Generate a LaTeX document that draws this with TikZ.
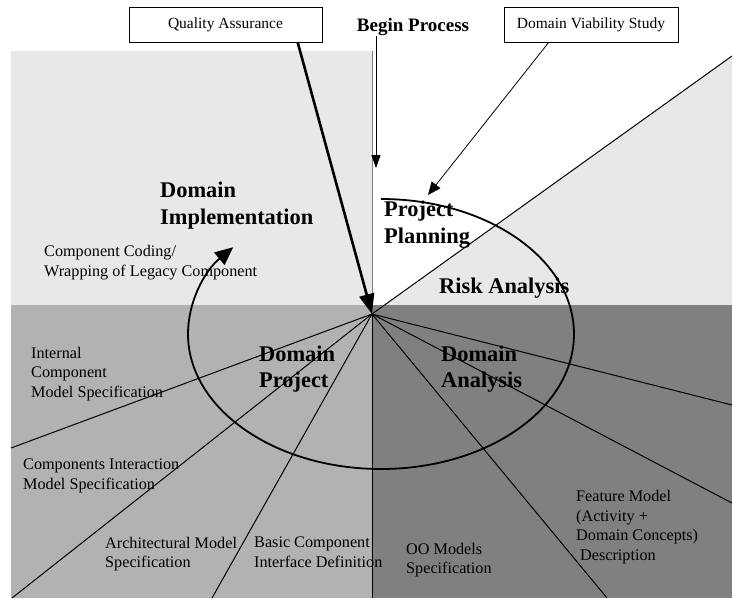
\documentclass[tikz,border=0pt]{standalone}
\usepackage{fontspec}
\setmainfont{Liberation Serif}
\usetikzlibrary{arrows.meta}
\definecolor{quadlight}{HTML}{E8E8E8}
\definecolor{quadmid}{HTML}{B2B2B2}
\definecolor{quaddark}{HTML}{808080}

\begin{document}
\begin{tikzpicture}[
    x=1pt, y=-1pt,
    note/.style={anchor=west, align=left, inner sep=0pt,
      font=\fontsize{16.2}{19.6}\selectfont},
    phase/.style={anchor=west, align=left, inner sep=0pt,
      font=\fontsize{22.4}{26.5}\selectfont\bfseries},
    inbox/.style={rectangle, draw, line width=1pt, fill=white,
      minimum height=35pt, inner sep=0pt, font=\fontsize{15.5}{19}\selectfont},
    spoke/.style={line width=1pt},
    cycle/.style={line width=1.8pt, -{Triangle[length=18pt,width=16pt]}},
  ]
  \useasboundingbox (0,0) rectangle (732,598);

  % quadrants
  \coordinate (hub) at (372,314);
  \fill[quadlight] (11,51) rectangle (372,305);
  \fill[quadlight] (hub) -- (732,56) -- (732,305) -- (372,305) -- cycle;
  \fill[quadmid] (11,305) rectangle (372,598);
  \fill[quaddark] (372,305) rectangle (732,598);
  \draw[gray, line width=0.6pt] (372,51) -- (hub);

  % phases
  \node[phase] (impl) at (160,205.5) {Domain\\Implementation};
  \node[phase] (planning) at (384,224.5) {Project\\Planning};
  \node[phase] (risk) at (439,288) {Risk Analysis};
  \node[phase] (dproj) at (259,369) {Domain\\Project};
  \node[phase] (danal) at (441,369) {Domain\\Analysis};

  % activities
  \node[note] (coding) at (44,262.5) {Component Coding/\\Wrapping of Legacy Component};
  \node[note] (internal) at (31,374) {Internal\\Component\\Model Specification};
  \node[note] (interact) at (23,476) {Components Interaction\\Model Specification};
  \node[note] (archi) at (105,554) {Architectural Model\\Specification};
  \node[note] (basic) at (254,552) {Basic Component\\Interface Definition};
  \node[note] (oomod) at (406,560) {OO Models\\Specification};
  \node[note] (feature) at (576,527) {Feature Model\\(Activity +\\Domain Concepts)\\\hspace*{4pt}Description};

  % spokes out of the hub
  \foreach \x/\y [count=\i] in {11/448, 12/598, 212/598, 372/598,
                                607/598, 732/503, 732/405, 732/56} {
    \coordinate (rim\i) at (\x,\y);
    \draw[spoke] (hub) -- (rim\i);
  }

  % inputs
  \node[inbox, minimum width=193pt] (qa) at (225.5,24.5) {Quality Assurance};
  \node[inbox, minimum width=174pt] (viab) at (591,24.5) {Domain Viability Study};
  \node[inner sep=0pt, font=\fontsize{19}{23}\selectfont\bfseries] (begin) at (413,27.5) {Begin Process};
  \coordinate (entry) at (376,168);
  \coordinate (plan) at (428,195);

  % Arrows
  \draw[line width=2.6pt, -{Triangle[length=20pt,width=15pt]}] (qa.-14) -- (hub);
  \draw[line width=0.8pt, -{Triangle[length=13pt,width=11pt]}] (viab.203) -- (plan);
  \draw[line width=0.8pt, -{Triangle[length=13pt,width=9pt]}] (begin.south -| entry) -- (entry);

  % process cycle
  \draw[cycle] (381,199) arc[start angle=-90, end angle=220, x radius=193, y radius=135];

\end{tikzpicture}
\end{document}
